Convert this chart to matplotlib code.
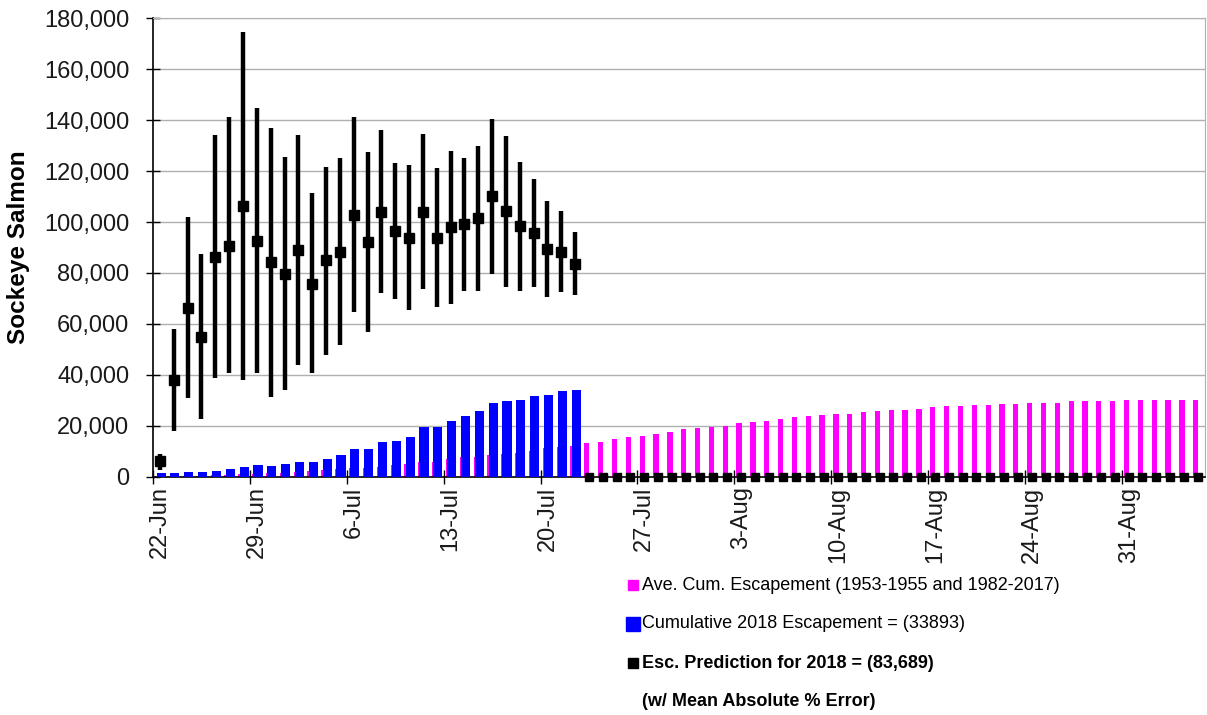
import numpy as np
import pandas as pd
import matplotlib
matplotlib.use("Agg")
import matplotlib.pyplot as plt
from matplotlib.lines import Line2D
from matplotlib.ticker import FuncFormatter, MultipleLocator, FixedLocator

plt.rcParams['font.family'] = ['Liberation Sans', 'DejaVu Sans']

# daily categories, 22-Jun through 5-Sep
dates = pd.date_range("2018-06-22", "2018-09-05", freq="D")
labels = [f"{d.day}-{d.strftime('%b')}" for d in dates]

# average cumulative escapement (1953-1955 and 1982-2017)
ave_cum = [100, 200, 300, 400, 500, 700, 900, 1100, 1300, 1600, 1900, 2300, 2700, 3000, 3300, 3600,
           3900, 4400, 5000, 5600, 5900, 6900, 7600, 7700, 8500, 8900, 9400, 10200, 11100, 11500, 12000,
           13100, 13600, 14700, 15500, 16100, 16600, 17500, 18600, 19000, 19500, 20000, 21000, 21500,
           21900, 22800, 23400, 23800, 24300, 24700, 24700, 25300, 25800, 26200, 26200, 26700, 27200,
           27800, 27800, 28100, 28100, 28700, 28700, 29100, 29100, 29100, 29600, 29600, 29600, 29600,
           30000, 30000, 30000, 30000, 30000, 30000]

# cumulative 2018 escapement so far
cum_2018 = [1300, 1300, 1700, 1800, 2300, 2900, 3800, 4400, 4300, 4900, 5800, 5800, 7000, 8400,
            10800, 10900, 13800, 14100, 15600, 19400, 19500, 21800, 23700, 25600, 29100, 29800,
            30300, 31800, 31900, 33800, 33893]

# escapement prediction with mean absolute % error range
pred = [6300, 38000, 66100, 55000, 86400, 90700, 106300, 92700, 84400, 79600, 89000, 75700, 85100,
        88300, 102700, 92300, 103800, 96600, 93800, 103800, 93800, 98200, 99200, 101500, 110200,
        104400, 98500, 95800, 89400, 88300, 83689]
pred_hi = [8900, 57900, 101800, 87400, 134200, 141400, 174700, 144900, 137000, 125600, 134200,
           111300, 121700, 125000, 141100, 127600, 136100, 123300, 122300, 134400, 121100, 128000,
           125200, 130000, 140400, 133800, 123700, 116900, 108200, 104300, 96200]
pred_lo = [2600, 18100, 30800, 22500, 38600, 40600, 38000, 40600, 31400, 34000, 43900, 40600,
           47800, 51700, 64800, 56900, 72300, 69600, 65400, 73600, 66700, 67800, 73000, 73000,
           79500, 74600, 73000, 74400, 70700, 72600, 71300]
# days without a prediction yet sit on the axis
pred_rest = np.zeros(len(dates) - len(pred))

x = np.arange(len(dates))
xp = x[:len(pred)]
xr = x[len(pred):]

fig = plt.figure(figsize=(12.07, 7.15), dpi=100)
ax = fig.add_axes([0.1268, 0.3333, 0.8713, 0.6411])

ax.bar(x - 0.15, ave_cum, width=0.38, color='#ff00ff', zorder=2)
ax.bar(xp + 0.08, cum_2018, width=0.66, color='#0000ff', zorder=3)

pred = np.array(pred)
yerr = [pred - np.array(pred_lo), np.array(pred_hi) - pred]
ax.errorbar(xp, pred, yerr=yerr, fmt='s', color='black', ms=6.5, elinewidth=3.2,
            capsize=0, zorder=5)
ax.plot(xr, pred_rest, 's', color='black', ms=6, zorder=5, clip_on=False)

ax.set_xlim(-0.5, len(dates) - 0.5)
ax.set_ylim(0, 180000)
ax.yaxis.set_major_locator(MultipleLocator(20000))
ax.yaxis.set_major_formatter(FuncFormatter(lambda v, p: f"{int(v):,}"))
ax.grid(axis='y', color='#b0b0b0', lw=1.0, zorder=0)
ax.set_axisbelow(True)

ax.set_xticks(x[::7])
ax.set_xticklabels(labels[::7], rotation=90, fontsize=17, color='#1a1a1a')
ax.xaxis.set_minor_locator(FixedLocator(np.arange(-0.5, len(dates), 7)))
ax.tick_params(axis='x', which='major', length=0, pad=7)
ax.tick_params(axis='x', which='minor', direction='inout', length=10, width=1)
ax.tick_params(axis='y', direction='inout', length=10, width=1, labelsize=17,
               labelcolor='#1a1a1a', pad=12)

for s in ['top', 'right']:
    ax.spines[s].set_color('#b0b0b0')
for s in ['left', 'bottom']:
    ax.spines[s].set_color('black')
    ax.spines[s].set_linewidth(1.2)

ax.set_ylabel('Sockeye Salmon', fontsize=17.5, fontweight='bold')
ax.yaxis.set_label_coords(-0.117, 0.5)

# legend rows under the plot
W, H = 1207, 715
rows = [
    ('#ff00ff', 6.5, 'Ave. Cum. Escapement (1953-1955 and 1982-2017)', 'normal', 585),
    ('#0000ff', 10, 'Cumulative 2018 Escapement = (33893)', 'normal', 624),
    ('black', 6.5, 'Esc. Prediction for 2018 = (83,689)', 'bold', 663),
]
for col, ms, txt, wt, yy in rows:
    fig.add_artist(Line2D([633 / W], [1 - yy / H], marker='s', ms=ms, color=col,
                          transform=fig.transFigure))
    fig.text(642 / W, 1 - yy / H, txt, fontsize=13, fontweight=wt, va='center', ha='left')
fig.text(642 / W, 1 - 701 / H, '(w/ Mean Absolute % Error)', fontsize=13, fontweight='bold',
         va='center', ha='left')

fig.savefig('out.png', dpi=100)
